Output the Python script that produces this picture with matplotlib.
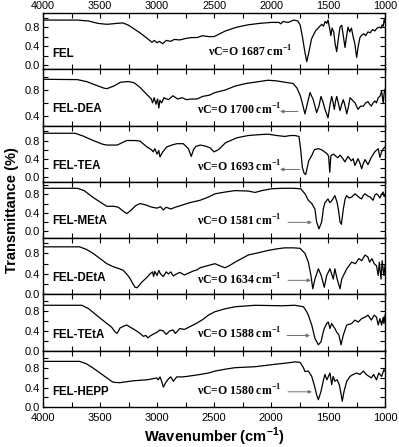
import matplotlib
matplotlib.use('Agg')
import matplotlib.pyplot as plt
from matplotlib.ticker import MultipleLocator

plt.rcParams['font.family'] = 'Liberation Sans'
plt.rcParams['mathtext.fontset'] = 'custom'
plt.rcParams['mathtext.rm'] = 'Liberation Serif'
plt.rcParams['mathtext.bf'] = 'Liberation Serif:bold'
plt.rcParams['mathtext.sf'] = 'Liberation Sans:bold'

# spectra: (wavenumber, transmittance)
fel = [(4000, 0.95), (3700, 0.95), (3600, 0.93), (3520, 0.88), (3440, 0.86), (3350, 0.88), (3300, 0.89),
       (3250, 0.84), (3150, 0.68), (3080, 0.55), (3045, 0.48), (3025, 0.52), (3000, 0.47), (2980, 0.50),
       (2950, 0.45), (2920, 0.52), (2880, 0.50), (2850, 0.54), (2800, 0.53), (2750, 0.56), (2700, 0.58),
       (2650, 0.58), (2600, 0.62), (2550, 0.60), (2500, 0.60), (2400, 0.72), (2300, 0.80), (2200, 0.85),
       (2100, 0.88), (2000, 0.90), (1930, 0.90), (1915, 0.87), (1895, 0.92), (1850, 0.90), (1800, 0.95),
       (1765, 0.93), (1745, 0.85), (1725, 0.60), (1705, 0.30), (1687, 0.07), (1670, 0.25), (1645, 0.55),
       (1610, 0.72), (1580, 0.80), (1555, 0.86), (1540, 0.82), (1525, 0.92), (1511, 0.88), (1500, 0.95),
       (1488, 0.80), (1475, 0.62), (1465, 0.78), (1450, 0.70), (1438, 0.45), (1424, 0.28), (1410, 0.55),
       (1395, 0.80), (1380, 0.84), (1365, 0.60), (1351, 0.37), (1338, 0.60), (1325, 0.80), (1310, 0.70),
       (1295, 0.78), (1280, 0.60), (1265, 0.45), (1249, 0.16), (1235, 0.40), (1220, 0.58), (1205, 0.63),
       (1185, 0.66), (1170, 0.62), (1150, 0.70), (1130, 0.68), (1110, 0.75), (1090, 0.72), (1070, 0.78),
       (1050, 0.80), (1035, 0.78), (1025, 0.85), (1015, 0.82), (1008, 0.96), (1000, 0.90)]

fel_dea = [(4000, 0.965), (3700, 0.96), (3620, 0.93), (3530, 0.87), (3470, 0.83), (3440, 0.82), (3380, 0.86),
           (3320, 0.92), (3250, 0.93), (3200, 0.91), (3150, 0.84), (3090, 0.73), (3050, 0.66), (3040, 0.60),
           (3025, 0.68), (3010, 0.58), (2995, 0.66), (2985, 0.52), (2975, 0.64), (2960, 0.60), (2940, 0.68),
           (2900, 0.65), (2860, 0.71), (2820, 0.66), (2780, 0.68), (2740, 0.65), (2700, 0.66), (2650, 0.66),
           (2600, 0.70), (2540, 0.72), (2492, 0.76), (2400, 0.80), (2316, 0.86), (2220, 0.90), (2140, 0.92),
           (2027, 0.95), (1950, 0.94), (1880, 0.92), (1807, 0.90), (1773, 0.83), (1745, 0.72), (1729, 0.62),
           (1703, 0.43), (1680, 0.60), (1658, 0.76), (1630, 0.65), (1600, 0.45), (1580, 0.55), (1562, 0.70),
           (1545, 0.62), (1527, 0.50), (1500, 0.37), (1485, 0.55), (1468, 0.70), (1455, 0.60), (1445, 0.50),
           (1435, 0.62), (1424, 0.70), (1410, 0.60), (1395, 0.48), (1380, 0.58), (1366, 0.65), (1350, 0.55),
           (1336, 0.43), (1320, 0.55), (1307, 0.68), (1290, 0.65), (1275, 0.62), (1263, 0.60), (1250, 0.55),
           (1237, 0.50), (1215, 0.55), (1190, 0.55), (1170, 0.60), (1150, 0.62), (1135, 0.58), (1120, 0.55),
           (1105, 0.60), (1090, 0.63), (1075, 0.60), (1060, 0.68), (1045, 0.70), (1030, 0.78), (1016, 0.60),
           (1008, 0.75), (1000, 0.81)]

fel_tea = [(4000, 0.96), (3720, 0.96), (3650, 0.90), (3560, 0.80), (3480, 0.72), (3440, 0.70), (3350, 0.70),
           (3300, 0.76), (3266, 0.80), (3200, 0.80), (3150, 0.79), (3090, 0.66), (3050, 0.60), (3035, 0.55),
           (3020, 0.62), (3000, 0.50), (2985, 0.58), (2974, 0.44), (2950, 0.55), (2915, 0.66), (2870, 0.70),
           (2828, 0.73), (2770, 0.73), (2725, 0.62), (2700, 0.45), (2680, 0.60), (2660, 0.67), (2620, 0.70),
           (2580, 0.68), (2535, 0.64), (2500, 0.55), (2460, 0.60), (2400, 0.75), (2300, 0.86), (2202, 0.91),
           (2100, 0.93), (2027, 0.94), (1950, 0.91), (1880, 0.89), (1830, 0.91), (1790, 0.91), (1755, 0.89),
           (1740, 0.60), (1725, 0.20), (1710, 0.08), (1696, 0.05), (1670, 0.35), (1643, 0.47), (1620, 0.60),
           (1585, 0.62), (1560, 0.60), (1530, 0.55), (1505, 0.50), (1495, 0.45), (1485, 0.10), (1475, 0.47),
           (1450, 0.50), (1430, 0.45), (1413, 0.42), (1395, 0.48), (1375, 0.42), (1352, 0.33), (1325, 0.45),
           (1296, 0.35), (1280, 0.40), (1264, 0.25), (1237, 0.40), (1220, 0.30), (1205, 0.18), (1190, 0.30),
           (1175, 0.38), (1150, 0.27), (1120, 0.43), (1090, 0.55), (1060, 0.62), (1045, 0.43), (1030, 0.55),
           (1015, 0.62), (1000, 0.66)]

fel_meta = [(4000, 0.93), (3700, 0.93), (3640, 0.88), (3560, 0.73), (3480, 0.60), (3441, 0.54), (3380, 0.54),
            (3340, 0.52), (3300, 0.44), (3266, 0.38), (3230, 0.45), (3190, 0.55), (3150, 0.60), (3100, 0.57),
            (3045, 0.52), (3000, 0.50), (2970, 0.53), (2945, 0.46), (2920, 0.52), (2880, 0.48), (2840, 0.52),
            (2800, 0.55), (2711, 0.62), (2623, 0.67), (2550, 0.74), (2492, 0.81), (2400, 0.85), (2316, 0.88),
            (2200, 0.87), (2140, 0.84), (2080, 0.88), (1995, 0.92), (1900, 0.93), (1807, 0.93), (1740, 0.92),
            (1702, 0.81), (1673, 0.67), (1643, 0.60), (1615, 0.48), (1600, 0.20), (1580, 0.05), (1556, 0.20),
            (1540, 0.50), (1527, 0.62), (1500, 0.70), (1485, 0.62), (1470, 0.65), (1440, 0.77), (1420, 0.62),
            (1405, 0.40), (1395, 0.20), (1383, 0.15), (1366, 0.48), (1350, 0.70), (1336, 0.77), (1315, 0.72),
            (1293, 0.74), (1264, 0.81), (1240, 0.76), (1220, 0.72), (1205, 0.70), (1190, 0.78), (1175, 0.81),
            (1150, 0.76), (1130, 0.74), (1105, 0.67), (1090, 0.78), (1075, 0.81), (1060, 0.78), (1045, 0.72),
            (1030, 0.80), (1017, 0.85), (1008, 0.75), (1000, 0.80)]

fel_deta = [(4000, 0.93), (3680, 0.93), (3620, 0.88), (3560, 0.80), (3500, 0.70), (3440, 0.60), (3383, 0.54),
            (3330, 0.50), (3296, 0.47), (3260, 0.38), (3237, 0.31), (3210, 0.20), (3193, 0.14), (3175, 0.13),
            (3134, 0.24), (3090, 0.33), (3062, 0.40), (3040, 0.44), (3030, 0.35), (3020, 0.45), (3000, 0.37),
            (2985, 0.47), (2970, 0.40), (2945, 0.35), (2920, 0.44), (2900, 0.40), (2880, 0.44), (2857, 0.36),
            (2830, 0.40), (2800, 0.43), (2760, 0.38), (2720, 0.42), (2680, 0.46), (2650, 0.48), (2623, 0.52),
            (2560, 0.56), (2492, 0.60), (2450, 0.56), (2404, 0.52), (2360, 0.57), (2316, 0.63), (2200, 0.77),
            (2100, 0.82), (2025, 0.86), (1950, 0.89), (1880, 0.91), (1800, 0.91), (1745, 0.90), (1702, 0.80),
            (1673, 0.63), (1650, 0.37), (1634, 0.11), (1615, 0.30), (1585, 0.50), (1560, 0.37), (1533, 0.14),
            (1512, 0.37), (1483, 0.50), (1454, 0.30), (1440, 0.50), (1420, 0.30), (1395, 0.11), (1380, 0.30),
            (1336, 0.50), (1293, 0.63), (1260, 0.60), (1230, 0.70), (1205, 0.66), (1175, 0.77), (1150, 0.73),
            (1135, 0.63), (1115, 0.70), (1095, 0.60), (1075, 0.56), (1060, 0.37), (1050, 0.63), (1035, 0.30),
            (1025, 0.66), (1010, 0.37), (1000, 0.56)]

fel_teta = [(4000, 0.92), (3660, 0.92), (3600, 0.85), (3500, 0.66), (3440, 0.55), (3400, 0.48), (3368, 0.38),
            (3350, 0.35), (3325, 0.46), (3290, 0.50), (3266, 0.52), (3230, 0.47), (3180, 0.40), (3149, 0.35),
            (3120, 0.29), (3100, 0.31), (3080, 0.26), (3060, 0.30), (3030, 0.34), (3003, 0.37), (2975, 0.42),
            (2945, 0.40), (2920, 0.33), (2890, 0.40), (2860, 0.42), (2840, 0.35), (2800, 0.45), (2760, 0.43),
            (2700, 0.50), (2650, 0.56), (2600, 0.63), (2550, 0.72), (2492, 0.79), (2400, 0.85), (2316, 0.89),
            (2140, 0.92), (1904, 0.91), (1790, 0.92), (1716, 0.89), (1690, 0.80), (1673, 0.72), (1643, 0.52),
            (1615, 0.25), (1585, 0.12), (1562, 0.18), (1545, 0.35), (1533, 0.45), (1512, 0.55), (1498, 0.58),
            (1483, 0.45), (1468, 0.55), (1455, 0.50), (1440, 0.45), (1425, 0.38), (1405, 0.32), (1386, 0.12),
            (1366, 0.32), (1336, 0.52), (1293, 0.55), (1264, 0.62), (1235, 0.58), (1205, 0.65), (1175, 0.68),
            (1150, 0.72), (1120, 0.62), (1095, 0.72), (1075, 0.68), (1060, 0.52), (1045, 0.65), (1030, 0.52),
            (1016, 0.68), (1010, 0.55), (1000, 0.72)]

fel_hepp = [(4000, 0.94), (3680, 0.94), (3620, 0.89), (3560, 0.80), (3500, 0.70), (3441, 0.60), (3400, 0.53),
            (3383, 0.51), (3330, 0.50), (3270, 0.52), (3208, 0.54), (3150, 0.55), (3090, 0.56), (3040, 0.58),
            (3003, 0.60), (2990, 0.56), (2974, 0.62), (2960, 0.53), (2945, 0.41), (2925, 0.50), (2900, 0.58),
            (2880, 0.62), (2857, 0.53), (2828, 0.62), (2780, 0.62), (2740, 0.63), (2680, 0.65), (2623, 0.67),
            (2550, 0.70), (2492, 0.74), (2400, 0.78), (2316, 0.81), (2140, 0.83), (1965, 0.88), (1850, 0.91),
            (1790, 0.93), (1745, 0.92), (1716, 0.81), (1702, 0.73), (1673, 0.74), (1643, 0.63), (1615, 0.40),
            (1600, 0.25), (1585, 0.15), (1562, 0.32), (1540, 0.56), (1527, 0.67), (1510, 0.56), (1483, 0.70),
            (1468, 0.46), (1455, 0.63), (1440, 0.53), (1420, 0.56), (1400, 0.45), (1390, 0.32), (1375, 0.12),
            (1360, 0.32), (1336, 0.53), (1307, 0.63), (1280, 0.67), (1249, 0.70), (1220, 0.67), (1190, 0.74),
            (1165, 0.67), (1140, 0.63), (1120, 0.60), (1100, 0.67), (1075, 0.56), (1055, 0.70), (1030, 0.63),
            (1010, 0.77), (1000, 0.74)]

spectra = [fel, fel_dea, fel_tea, fel_meta, fel_deta, fel_teta, fel_hepp]
names = ['FEL', 'FEL-DEA', 'FEL-TEA', 'FEL-MEtA', 'FEL-DEtA', 'FEL-TEtA', 'FEL-HEPP']
peaks = ['1687', '1700', '1693', '1581', '1634', '1588', '1580']

# layout / style per panel
ylims = [(-0.09, 1.10), (0.25, 1.12), (-0.11, 1.13), (-0.15, 1.07), (0.0, 1.10), (0.0, 1.14), (0.0, 1.16)]
name_y = [0.27, 0.30, 0.28, 0.30, 0.29, 0.28, 0.27]
note_x = [0.482, 0.45, 0.45, 0.45, 0.45, 0.45, 0.45]
note_y = [0.31, 0.27, 0.27, 0.30, 0.26, 0.29, 0.29]
# arrows: (tail, head) in wavenumber, y in axes fraction
arrows = [None, (1764, 1921, 0.25), (1746, 1921, 0.22), (1851, 1641, 0.28),
          (1851, 1650, 0.25), (1860, 1658, 0.27), (1851, 1641, 0.27)]

fig, axes = plt.subplots(7, 1, sharex=True, figsize=(3.99, 4.47), dpi=100)
fig.subplots_adjust(left=0.108, right=0.965, top=0.971, bottom=0.0895, hspace=0)

for i, ax in enumerate(axes):
    wn, tr = zip(*spectra[i])
    ax.plot(wn, tr, color='black', lw=0.9)
    ax.set_xlim(4000, 1000)
    ax.set_ylim(*ylims[i])
    ax.xaxis.set_major_locator(MultipleLocator(500))
    ax.xaxis.set_minor_locator(MultipleLocator(250))
    ax.yaxis.set_major_locator(MultipleLocator(0.4))
    ax.yaxis.set_minor_locator(MultipleLocator(0.2))
    ax.yaxis.set_major_formatter(lambda v, p: f'{v:.1f}')
    ax.tick_params(which='both', direction='in', top=True, right=True, labelsize=8, width=0.8)
    ax.tick_params(which='major', length=3.5)
    ax.tick_params(which='minor', length=3.5)
    ax.tick_params(axis='y', pad=2.5)
    for s in ax.spines.values():
        s.set_linewidth(1.0)

    ax.text(0.026, name_y[i], names[i], transform=ax.transAxes, fontsize=8.3,
            fontweight='bold', va='center', ha='left')
    ax.text(note_x[i], note_y[i], r'νC=O %s cm$^{\mathbf{-1}}$' % peaks[i], transform=ax.transAxes,
            fontsize=8.5, fontweight='bold', family='Liberation Serif', va='center', ha='left')
    if arrows[i] is not None:
        tail, head, ay = arrows[i]
        ax.annotate('', xy=(head, ay), xytext=(tail, ay), xycoords=('data', 'axes fraction'),
                    textcoords=('data', 'axes fraction'),
                    arrowprops=dict(arrowstyle='-|>', color='#707070', lw=0.7, mutation_scale=5,
                                    shrinkA=0, shrinkB=0))

axes[0].tick_params(axis='x', labeltop=True, pad=1.5, labelsize=7.8)
axes[-1].tick_params(axis='x', pad=4)
axes[-1].set_xlabel(r'Wavenumber (cm$^{\mathsf{-1}}$)', fontsize=10.5, fontweight='bold', labelpad=2)
fig.text(0.03, 0.53, 'Transmittance (%)', rotation=90, fontsize=10.5, fontweight='bold',
         va='center', ha='center')

fig.savefig('out.png', dpi=100)
